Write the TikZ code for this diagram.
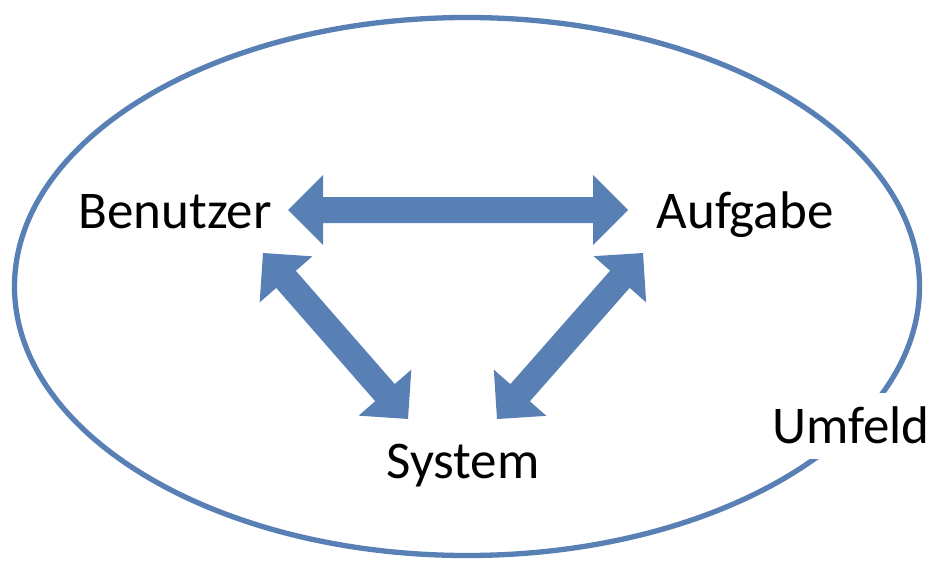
\documentclass[tikz,border=0pt]{standalone}
\usepackage{fontspec}
\setmainfont{Carlito}
\definecolor{accent}{RGB}{88,128,181}
\newcommand\bidirarrow[3]{% start coordinate name, angle, length
  \fill[accent,shift={(#1)},rotate=#2]
    (0,0) -- (35,35) -- (35,13) -- (#3-35,13) -- (#3-35,35) -- (#3,0)
    -- (#3-35,-35) -- (#3-35,-13) -- (35,-13) -- (35,-35) -- cycle;}
\begin{document}
\begin{tikzpicture}[x=1pt,y=-1pt,
  lbl/.style={font=\fontsize{53}{60}\selectfont, inner sep=0pt, anchor=base}]
\useasboundingbox (0,0) rectangle (934,562);
\draw[accent, line width=5.3pt] (467,286.5) ellipse [x radius=452.5pt, y radius=269pt];
\node[lbl] (ben) at (175,228) {Benutzer};
\node[lbl] (auf) at (745,228) {Aufgabe};
\node[lbl] (sys) at (463,478) {System};
\node[fill=white, minimum width=165pt, minimum height=66pt, inner sep=0pt,
      font=\fontsize{53}{60}\selectfont] (umf) at (851,425.5) {Umfeld};
\coordinate (hA) at (288,210);
\coordinate (lA) at (263,253);
\coordinate (rA) at (643,253);
\bidirarrow{hA}{0}{340}
\bidirarrow{lA}{-48.86}{220.4}
\bidirarrow{rA}{-131.33}{221.1}
\end{tikzpicture}
\end{document}
